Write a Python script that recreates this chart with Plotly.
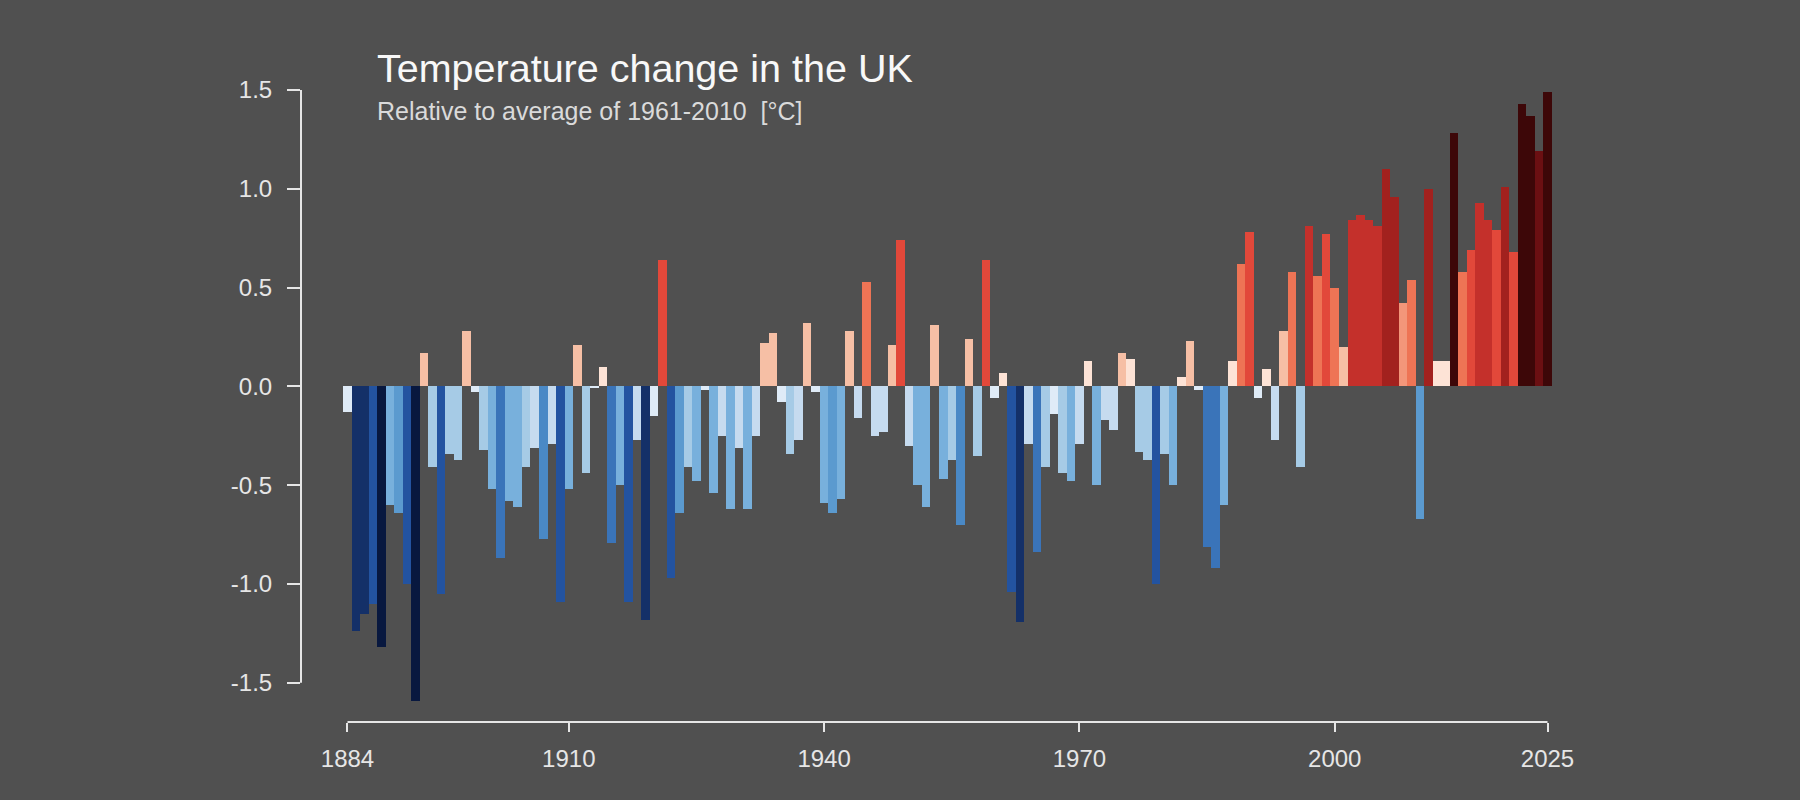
import plotly.graph_objects as go

# UK annual temperature anomaly, relative to 1961-2010 average [°C]
years = list(range(1884, 2026))
anomaly = [
    -0.13, -1.24, -1.15, -1.10, -1.32, -0.60, -0.64, -1.00, -1.59, 0.17,   # 1884-1893
    -0.41, -1.05, -0.34, -0.37, 0.28, -0.03, -0.32, -0.52, -0.87, -0.58,   # 1894-1903
    -0.61, -0.41, -0.31, -0.77, -0.29, -1.09, -0.52, 0.21, -0.44, -0.01,   # 1904-1913
    0.10, -0.79, -0.50, -1.09, -0.27, -1.18, -0.15, 0.64, -0.97, -0.64,    # 1914-1923
    -0.41, -0.48, -0.02, -0.54, -0.25, -0.62, -0.31, -0.62, -0.25, 0.22,   # 1924-1933
    0.27, -0.08, -0.34, -0.27, 0.32, -0.03, -0.59, -0.64, -0.57, 0.28,     # 1934-1943
    -0.16, 0.53, -0.25, -0.23, 0.21, 0.74, -0.30, -0.50, -0.61, 0.31,      # 1944-1953
    -0.47, -0.37, -0.70, 0.24, -0.35, 0.64, -0.06, 0.07, -1.04, -1.19,     # 1954-1963
    -0.29, -0.84, -0.41, -0.14, -0.44, -0.48, -0.29, 0.13, -0.50, -0.17,   # 1964-1973
    -0.22, 0.17, 0.14, -0.33, -0.37, -1.00, -0.34, -0.50, 0.05, 0.23,      # 1974-1983
    -0.02, -0.81, -0.92, -0.60, 0.13, 0.62, 0.78, -0.06, 0.09, -0.27,      # 1984-1993
    0.28, 0.58, -0.41, 0.81, 0.56, 0.77, 0.50, 0.20, 0.84, 0.87,           # 1994-2003
    0.84, 0.81, 1.10, 0.96, 0.42, 0.54, -0.67, 1.00, 0.13, 0.13,           # 2004-2013
    1.28, 0.58, 0.69, 0.93, 0.84, 0.79, 1.01, 0.68, 1.43, 1.37,            # 2014-2023
    1.19, 1.49,                                                            # 2024-2025
]

x_ticks = [1884, 1910, 1940, 1970, 2000, 2025]
y_ticks = [1.5, 1.0, 0.5, 0.0, -0.5, -1.0, -1.5]
y_labels = ["1.5", "1.0", "0.5", "0.0", "-0.5", "-1.0", "-1.5"]

# stepped stripes palette: class edges and colours
edges = [-1.3, -1.12, -0.95, -0.78, -0.68, -0.63, -0.45, -0.315, -0.155, 0.0,
         0.15, 0.35, 0.45, 0.63, 0.8, 0.95, 1.15, 1.25]
palette = ['#08183f', '#143068', '#2353a0', '#3a74b9', '#4a89c6', '#5b9acf',
           '#78b0dc', '#a6cbe6', '#c6dbef', '#dfebf7', '#fde3d6', '#f6bfa5',
           '#f3967a', '#ee7455', '#e2483a', '#c4302b', '#a2211e', '#6b0f12',
           '#3d0708']

cmin, cmax = -1.8, 1.7
scale = [[0.0, palette[0]]]
for i, e in enumerate(edges):
    t = (e - cmin) / (cmax - cmin)
    scale.append([t, palette[i]])
    scale.append([t, palette[i + 1]])
scale.append([1.0, palette[-1]])

bg = '#505050'
axis_col = '#e6e6e6'
font = 'Liberation Sans, Arial, Helvetica, sans-serif'

fig = go.Figure()
fig.add_trace(go.Bar(
    x=years, y=anomaly, width=1.0,
    marker=dict(color=anomaly, colorscale=scale, cmin=cmin, cmax=cmax,
                line=dict(width=0)),
    hovertemplate='%{x}: %{y:.2f} °C<extra></extra>'
))

# detached axis lines, R style
fig.add_shape(type='line', xref='x', yref='paper', x0=1884, x1=2025, y0=0, y1=0,
              line=dict(color=axis_col, width=2))
fig.add_shape(type='line', xref='paper', yref='y', x0=0, x1=0, y0=-1.5, y1=1.5,
              line=dict(color=axis_col, width=2))

fig.add_annotation(text='Temperature change in the UK', xref='paper', yref='paper',
                   x=0.057, y=1.019, xanchor='left', yanchor='middle', showarrow=False,
                   font=dict(size=39.5, color='#f8f8f8', family=font))
fig.add_annotation(text='Relative to average of 1961-2010  [°C]', xref='paper', yref='paper',
                   x=0.057, y=0.951, xanchor='left', yanchor='middle', showarrow=False,
                   font=dict(size=25, color='#dadada', family=font))

fig.update_layout(
    width=1800, height=800,
    margin=dict(l=301, r=200, t=80, b=78),
    paper_bgcolor=bg, plot_bgcolor=bg,
    bargap=0, showlegend=False,
    font=dict(family=font, color=axis_col),
    xaxis=dict(range=[1878.537, 2031.168], tickvals=x_ticks, ticks='outside',
               ticklen=9, tickwidth=2, tickcolor=axis_col, showgrid=False,
               zeroline=False, showline=False, ticklabelstandoff=6,
               tickfont=dict(size=24, color=axis_col)),
    yaxis=dict(range=[-1.698, 1.5506], tickvals=y_ticks, ticktext=y_labels,
               ticks='outside', ticklen=13, tickwidth=2, tickcolor=axis_col,
               showgrid=False, zeroline=False, showline=False, ticklabelstandoff=10,
               tickfont=dict(size=24, color=axis_col)),
)

fig.write_html("out.html", config={'displayModeBar': False},
               post_script="document.body.style.margin='0';document.body.style.background='#505050';")
